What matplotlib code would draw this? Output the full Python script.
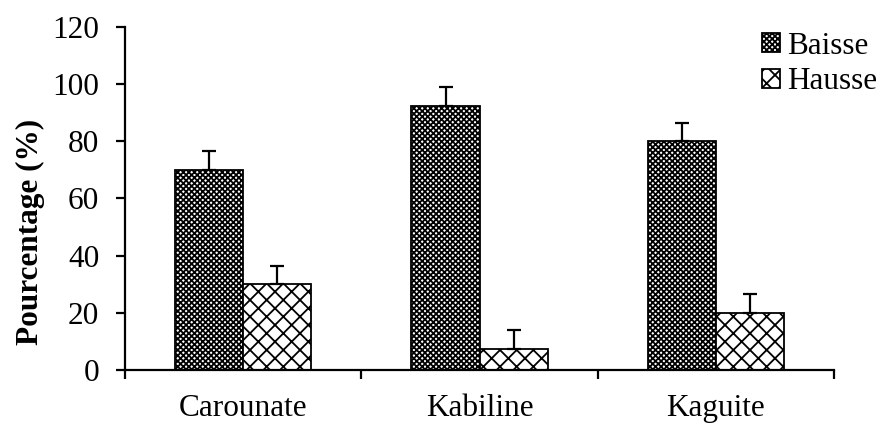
import numpy as np
import matplotlib
matplotlib.use("Agg")
from matplotlib import pyplot as plt

plt.rcParams["font.family"] = ["Liberation Serif", "DejaVu Serif"]
plt.rcParams["hatch.linewidth"] = 1.3

# data
sites = ["Carounate", "Kabiline", "Kaguite"]
baisse = [70, 92.5, 80]
hausse = [30, 7.5, 20]
baisse_err = [6.5, 6.5, 6.5]
hausse_err = [6.5, 6.5, 6.5]

fs = 22.5
fig = plt.figure(figsize=(8.82, 4.23), dpi=100)
ax = fig.add_axes([0.1417, 0.1253, 0.804, 0.811])

x = np.arange(len(sites))
w = 0.288

ekw = dict(ecolor="black", elinewidth=1.6, capsize=5, capthick=1.6)
ax.bar(x - w / 2, baisse, w, color="white", edgecolor="black", hatch="xxxxxx",
       linewidth=1.3, label="Baisse", yerr=[np.zeros(3), baisse_err], error_kw=ekw)
ax.bar(x + w / 2, hausse, w, color="white", edgecolor="black", hatch="xx",
       linewidth=1.3, label="Hausse", yerr=[np.zeros(3), hausse_err], error_kw=ekw)

ax.set_xlim(-0.5, 2.5)
ax.set_ylim(0, 120)
ax.set_yticks(range(0, 121, 20))
ax.set_xticks([-0.5, 0.5, 1.5, 2.5])
ax.set_xticklabels([])
ax.set_xticks(x, minor=True)
ax.set_xticklabels(sites, minor=True, fontsize=fs)
ax.tick_params(axis="x", which="minor", length=0, pad=17)
ax.tick_params(axis="x", which="major", direction="out", length=6.5, width=1.6)
ax.tick_params(axis="y", direction="out", length=6.5, width=1.6, labelsize=fs, pad=12)

for s in ["top", "right"]:
    ax.spines[s].set_visible(False)
for s in ["left", "bottom"]:
    ax.spines[s].set_linewidth(1.6)

ax.set_ylabel("Pourcentage (%)", fontsize=fs, fontweight="bold")
ax.yaxis.set_label_coords(-0.113, 0.402)

fig.legend(loc="upper right", bbox_to_anchor=(1.009, 0.955), frameon=False,
           fontsize=fs, handlelength=0.55, handleheight=0.55, handletextpad=0.25,
           labelspacing=0.22, borderaxespad=0)

plt.savefig("out.png", dpi=100)
